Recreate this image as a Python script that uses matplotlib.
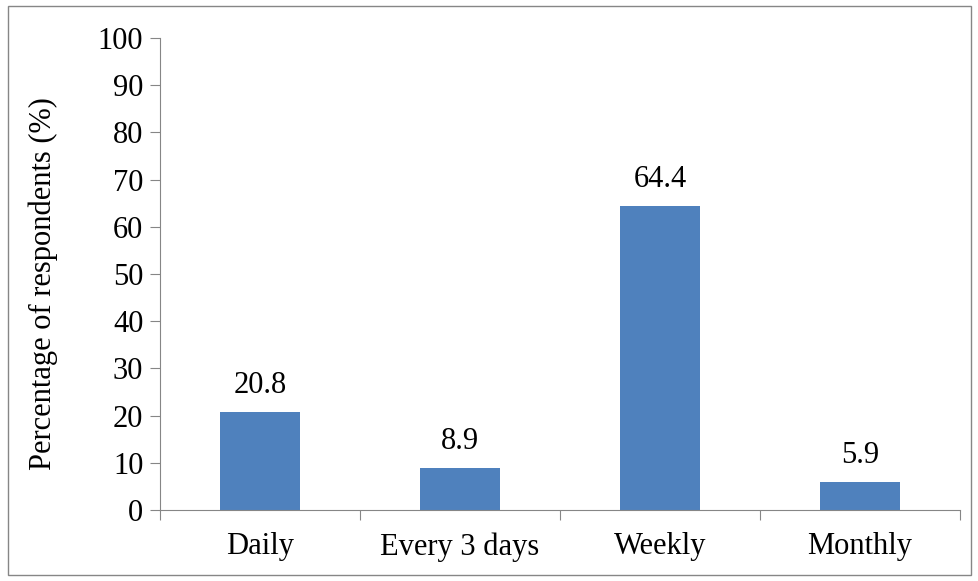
import matplotlib.pyplot as plt
from matplotlib.patches import Rectangle

# Data
categories = ['Daily', 'Every 3 days', 'Weekly', 'Monthly']
percentages = [20.8, 8.9, 64.4, 5.9]
yticks = list(range(0, 101, 10))

plt.rcParams['font.family'] = ['Liberation Serif', 'DejaVu Serif']
fs = 22

fig = plt.figure(figsize=(9.79, 5.81), dpi=100)
ax = fig.add_axes([0.1634, 0.1222, 0.8172, 0.8124])

x = list(range(len(categories)))
bars = ax.bar(x, percentages, width=0.4, color='#4F81BD')

for xi, v in zip(x, percentages):
    ax.text(xi, v + 2.5, f'{v}', ha='center', va='bottom', fontsize=fs)

ax.set_xlim(-0.5, len(categories) - 0.5)
ax.set_ylim(0, 100)
ax.set_yticks(yticks)
ax.tick_params(axis='y', labelsize=fs, length=7, color='#868686', direction='out', pad=5)

# category labels between tick marks
ax.set_xticks([i - 0.5 for i in range(len(categories) + 1)])
ax.set_xticklabels([])
ax.set_xticks(x, minor=True)
ax.set_xticklabels(categories, minor=True, fontsize=fs)
ax.tick_params(axis='x', which='major', length=7, color='#868686')
ax.tick_params(axis='x', which='minor', length=0, pad=16)

ax.set_ylabel('Percentage of respondents (%)', fontsize=fs)
ax.yaxis.set_label_coords(-0.128, 0.48)

for side in ['top', 'right']:
    ax.spines[side].set_visible(False)
for side in ['left', 'bottom']:
    ax.spines[side].set_color('#868686')

# outer border
fig.patches.append(Rectangle((0.008, 0.01), 0.984, 0.98, transform=fig.transFigure,
                             fill=False, edgecolor='#868686', linewidth=1))

fig.savefig('out.png', dpi=100)
